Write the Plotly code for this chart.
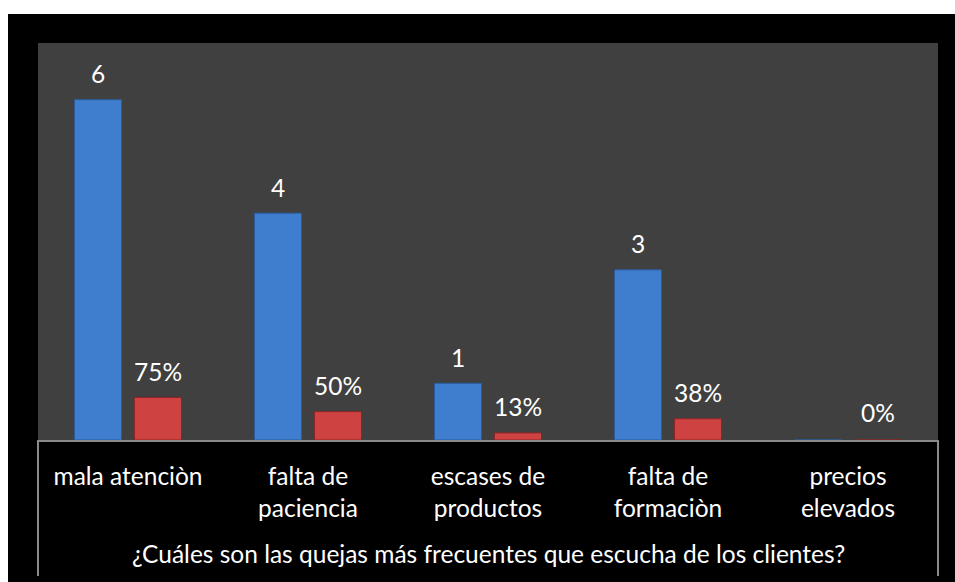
import plotly.graph_objects as go

# Survey: most frequent complaints heard from customers (8 respondents)
categories = ["mala atenciòn", "falta de<br>paciencia", "escases de<br>productos",
              "falta de<br>formaciòn", "precios<br>elevados"]
counts = [6, 4, 1, 3, 0]
shares = [0.75, 0.50, 0.125, 0.375, 0.0]
axis_title = "¿Cuáles son las quejas más frecuentes que escucha de los clientes?"

W, H = 955, 582
ML, MR, MT, MB = 38, 17, 43, 142
PW, PH = W - ML - MR, H - MT - MB

FONT = "Lato"
FS = 24.5
BLUE, BLUE_EDGE = "#3F7ECF", "#2B5C9E"
RED, RED_EDGE = "#CF4242", "#8E2424"

fig = go.Figure()
fig.add_trace(go.Bar(x=categories, y=counts, name="Frecuencia",
                     marker=dict(color=BLUE, line=dict(color=BLUE_EDGE, width=1))))
fig.add_trace(go.Bar(x=categories, y=shares, name="Porcentaje",
                     marker=dict(color=RED, line=dict(color=RED_EDGE, width=1))))

# value labels above each bar
slot_px = PW / len(categories) * (1 - 0.333) / 2
anns = []
for cat, c, s in zip(categories, counts, shares):
    if c:
        anns.append(dict(x=cat, y=c, text=str(c), xshift=-slot_px / 2, yshift=26,
                         showarrow=False, yanchor="middle",
                         font=dict(family=FONT, size=FS, color="white")))
    anns.append(dict(x=cat, y=s, text=f"{int(s * 100 + 0.5)}%", xshift=slot_px / 2,
                     yshift=26 if s else 28, showarrow=False, yanchor="middle",
                     font=dict(family=FONT, size=FS, color="white")))

anns.append(dict(x=0.5, y=0, xref="paper", yref="paper", yshift=-113, text=axis_title,
                 showarrow=False, yanchor="middle",
                 font=dict(family=FONT, size=FS, color="white")))
fig.update_layout(annotations=anns)

def px_x(p):
    return (p - ML) / PW

def px_y(p):
    return (H - MB - p) / PH

shapes = [
    # white strips along the top and left edges
    dict(type="rect", xref="paper", yref="paper", x0=px_x(0), x1=px_x(W),
         y0=px_y(14), y1=px_y(0), fillcolor="white", line_width=0, layer="above"),
    dict(type="rect", xref="paper", yref="paper", x0=px_x(0), x1=px_x(8),
         y0=px_y(H), y1=px_y(0), fillcolor="white", line_width=0, layer="above"),
    # category table borders
    dict(type="line", xref="paper", yref="paper", x0=0, x1=0, y0=0, y1=px_y(576),
         line=dict(color="#8A8A8A", width=2)),
    dict(type="line", xref="paper", yref="paper", x0=1, x1=1, y0=0, y1=px_y(576),
         line=dict(color="#8A8A8A", width=2)),
]
fig.update_layout(shapes=shapes)

fig.update_layout(
    width=W, height=H,
    margin=dict(l=ML, r=MR, t=MT, b=MB),
    paper_bgcolor="black", plot_bgcolor="#404040",
    barmode="group", bargap=0.333, bargroupgap=0.217,
    showlegend=False,
    font=dict(family=FONT, size=FS, color="white"),
)
fig.update_xaxes(showline=True, linecolor="#8A8A8A", linewidth=2, ticks="",
                 showgrid=False, ticklabelstandoff=14,
                 tickfont=dict(family=FONT, size=FS, color="white"))
fig.update_yaxes(range=[0, 7], visible=False, showgrid=False)

fig.write_html("out.html")
